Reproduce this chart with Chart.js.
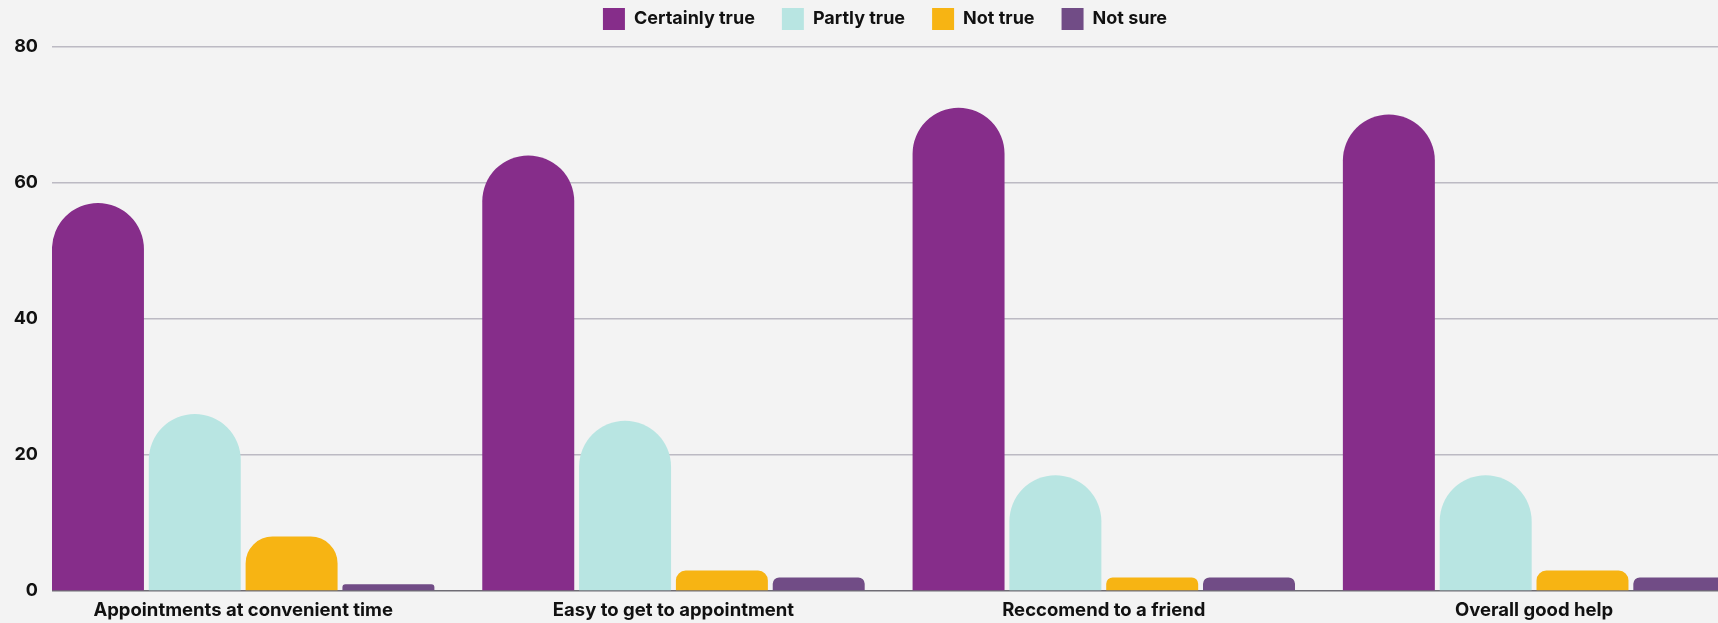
<!DOCTYPE html>
<html>
<head>
<meta charset="utf-8">
<script src="https://cdn.jsdelivr.net/npm/chart.js@4.4.1/dist/chart.umd.min.js"></script>
<style>
  html, body { margin: 0; padding: 0; background: #f3f3f3; }
  .wrap { width: 1718px; height: 623px; position: relative; }
</style>
</head>
<body>
<div class="wrap"><canvas id="survey"></canvas></div>
<script>
const categories = ['Appointments at convenient time', 'Easy to get to appointment', 'Reccomend to a friend', 'Overall good help'];
const certainlyTrue = [57, 64, 71, 70];
const partlyTrue = [26, 25, 17, 17];
const notTrue = [8, 3, 2, 3];
const notSure = [1, 2, 2, 2];
const yTicks = [0, 20, 40, 60, 80];

const FONT = 'Inter, "Noto Sans", sans-serif';

// groups sit on a numeric axis so the first one can start right at the y axis
const toPoints = (arr) => arr.map((v, i) => ({ x: i, y: v }));

const bar = (label, values, color) => ({
  label,
  data: toPoints(values),
  backgroundColor: color,
  borderRadius: 200,
  borderSkipped: 'start',
  categoryPercentage: 0.9,
  barPercentage: 0.95
});

new Chart(document.getElementById('survey'), {
  type: 'bar',
  data: {
    datasets: [
      bar('Certainly true', certainlyTrue, '#862d8a'),
      bar('Partly true', partlyTrue, '#b8e5e2'),
      bar('Not true', notTrue, '#f7b413'),
      bar('Not sure', notSure, '#714c86')
    ]
  },
  options: {
    responsive: true,
    maintainAspectRatio: false,
    animation: false,
    layout: { padding: { top: -19, left: 0, right: 0, bottom: 0 } },
    plugins: {
      tooltip: { enabled: false },
      // empty title used as a small gap between the legend and the plot
      title: {
        display: true,
        text: '',
        weight: 500,
        padding: 0,
        font: { size: 6.5, lineHeight: 1 }
      },
      legend: {
        position: 'top',
        fullSize: false,
        labels: {
          boxWidth: 22,
          boxHeight: 22,
          padding: 27,
          color: '#111',
          font: { family: FONT, size: 18, weight: '700' }
        }
      }
    },
    scales: {
      x: {
        type: 'linear',
        offset: false,
        min: -0.4443,
        max: 3.4274,
        grid: { display: false, drawTicks: false },
        border: { display: false },
        afterBuildTicks: (scale) => {
          scale.ticks = categories.map((_, i) => ({ value: i }));
        },
        afterFit: (scale) => { scale.height = 32; },
        ticks: {
          padding: 8,
          color: '#111',
          font: { family: FONT, size: 18.5, weight: '700' },
          callback: (value) => categories[value]
        }
      },
      y: {
        min: 0,
        max: 80,
        border: { display: false },
        afterBuildTicks: (scale) => {
          scale.ticks = yTicks.map((v) => ({ value: v }));
        },
        afterFit: (scale) => { scale.width = 52; },
        grid: {
          drawTicks: false,
          lineWidth: 1.5,
          color: (ctx) => ctx.tick && ctx.tick.value === 0 ? '#6e6c74' : '#bcbac3'
        },
        ticks: {
          padding: 14,
          color: '#111',
          font: { family: FONT, size: 18, weight: '700' }
        }
      }
    }
  }
});
</script>
</body>
</html>
